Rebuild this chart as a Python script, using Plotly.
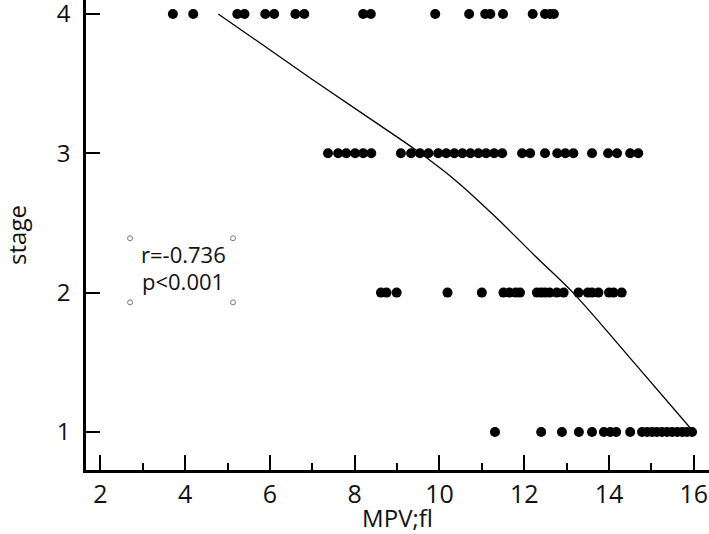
import plotly.graph_objects as go

# Data
stage4_x = [3.71, 4.19, 5.23, 5.40, 5.89, 6.10, 6.60, 6.81, 8.20, 8.38, 9.90,
            10.70, 11.08, 11.20, 11.50, 12.20, 12.49, 12.61, 12.70]
stage3_x = [7.37, 7.61, 7.80, 8.01, 8.20, 8.39, 9.09, 9.33, 9.54, 9.74, 9.97,
            10.16, 10.35, 10.54, 10.73, 10.92, 11.10, 11.29, 11.48, 11.95, 12.14,
            12.49, 12.78, 12.97, 13.16, 13.60, 13.98, 14.19, 14.50, 14.69]
stage2_x = [8.62, 8.75, 8.99, 10.19, 11.00, 11.51, 11.65, 11.80, 11.90, 12.30,
            12.40, 12.49, 12.60, 12.77, 12.93, 13.28, 13.50, 13.60, 13.75, 14.00,
            14.11, 14.30]
stage1_x = [11.31, 12.40, 12.89, 13.29, 13.60, 13.88, 14.03, 14.17, 14.50, 14.78,
            14.90, 15.02, 15.13, 15.25, 15.37, 15.49, 15.61, 15.73, 15.84, 15.96]

fit_x = [4.78, 7.0, 8.5, 9.55, 10.4, 11.3, 12.3, 13.15, 14.5, 16.0]
fit_y = [4.0, 3.53, 3.22, 3.0, 2.8, 2.55, 2.25, 2.0, 1.53, 1.0]

stat_text = ["r=-0.736", "p<0.001"]
stat_x = [3.95, 3.95]
stat_y = [2.28, 2.08]
handle_x = [2.70, 5.13, 2.70, 5.13]
handle_y = [2.39, 2.39, 1.93, 1.93]

xs, ys = [], []
for st, arr in [(4, stage4_x), (3, stage3_x), (2, stage2_x), (1, stage1_x)]:
    xs += arr
    ys += [st] * len(arr)

fig = go.Figure()
fig.add_trace(go.Scatter(x=xs, y=ys, mode="markers",
                         marker=dict(color="black", size=10, line=dict(width=0)),
                         showlegend=False, hoverinfo="skip", cliponaxis=False))
fig.add_trace(go.Scatter(x=fit_x, y=fit_y, mode="lines",
                         line=dict(color="black", width=1.3, shape="spline",
                                   smoothing=1.0),
                         showlegend=False, hoverinfo="skip"))
fig.add_trace(go.Scatter(x=handle_x, y=handle_y, mode="markers",
                         marker=dict(symbol="circle-open", size=5, color="#777777",
                                     line=dict(width=1)),
                         showlegend=False, hoverinfo="skip"))

font = "Open Sans"
for t, x, y in zip(stat_text, stat_x, stat_y):
    fig.add_annotation(x=x, y=y, text=t, showarrow=False,
                       font=dict(family=font, size=22, color="#111"))

fig.update_layout(
    width=709, height=534,
    margin=dict(l=86, r=0, t=0, b=64),
    plot_bgcolor="white", paper_bgcolor="white",
    font=dict(family=font, color="#111"),
    xaxis=dict(range=[1.66, 16.36], tickvals=[2, 4, 6, 8, 10, 12, 14, 16],
               ticks="inside", ticklen=15, tickwidth=1.5, tickcolor="black",
               minor=dict(dtick=1, tick0=1, ticks="inside", ticklen=7,
                          tickwidth=1.5, tickcolor="black", showgrid=False),
               showline=True, linecolor="black", linewidth=2.5, showgrid=False,
               zeroline=False, tickfont=dict(size=25, family=font),
               automargin=False, ticklabeloverflow="allow",
               title=dict(text="MPV;fl", font=dict(size=24, family=font), standoff=2)),
    yaxis=dict(range=[0.727, 4.10], tickvals=[1, 2, 3, 4],
               ticks="inside", ticklen=14, tickwidth=1.5, tickcolor="black",
               showline=True, linecolor="black", linewidth=2.5, showgrid=False,
               zeroline=False, tickfont=dict(size=24, family=font),
               ticklabelstandoff=8, automargin=False, ticklabeloverflow="allow",
               title=dict(text="stage", font=dict(size=24, family=font), standoff=40)),
)
fig.write_html("out.html", config={"displayModeBar": False},
               post_script="document.body.style.margin='0';")
